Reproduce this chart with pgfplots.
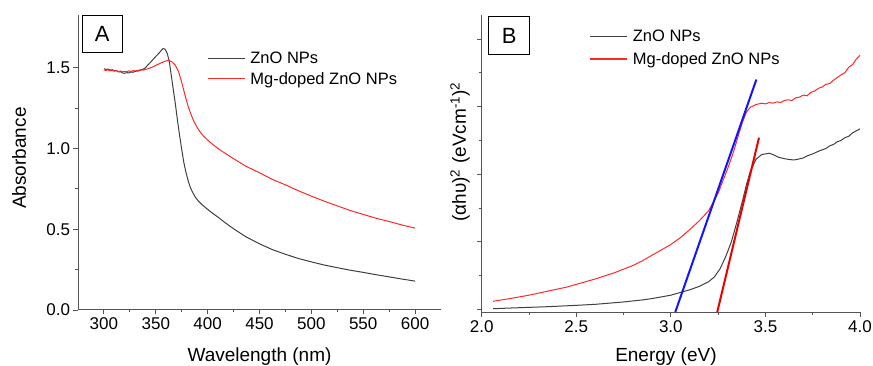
\documentclass[border=0pt]{standalone}
\usepackage{fontspec}
\setmainfont{Liberation Sans}
\usepackage{pgfplots}
\pgfplotsset{compat=1.18}
\definecolor{zno}{RGB}{64,64,64}
\definecolor{mg}{RGB}{255,40,40}
\definecolor{axisgray}{RGB}{85,85,85}
\definecolor{fitblue}{RGB}{20,20,255}
\definecolor{fitred}{RGB}{235,0,0}
\pgfplotsset{
  common/.style={
    scale only axis,
    axis x line*=bottom, axis y line*=left,
    axis line style={axisgray, line width=1pt},
    tick align=outside,
    major tick length=4.5pt, minor tick length=2.5pt,
    every tick/.style={axisgray, line width=0.9pt},
    tick label style={font=\fontsize{17}{17}\selectfont},
    /pgf/number format/assume math mode=true,
    label style={font=\fontsize{19}{19}\selectfont},
    legend cell align=left,
    legend style={draw=none, fill=none, font=\fontsize{16.5}{16.5}\selectfont,
      inner sep=0pt, nodes={inner sep=1pt}},
    legend image code/.code={\draw[##1] (0pt,0pt) -- (37pt,0pt); \path (41pt,0pt);},
    clip mode=individual,
  }
}
\begin{document}
\begin{tikzpicture}
\useasboundingbox (0pt,0pt) rectangle (873pt,366pt);
% ---------------- Panel A ----------------
\begin{axis}[common,
  at={(78pt,56pt)}, anchor=south west,
  width=363pt, height=295pt,
  xmin=275, xmax=625, ymin=0, ymax=1.827,
  xtick={300,350,...,600}, ytick={0,0.5,1,1.5},
  minor x tick num=1, minor y tick num=1,
  yticklabel style={/pgf/number format/.cd, fixed, fixed zerofill, precision=1},
  xlabel={Wavelength (nm)}, ylabel={Absorbance},
  xlabel style={at={(axis description cs:0.5,-0.175)}, anchor=base},
  ylabel style={at={(axis description cs:-0.1625,0.515)}, anchor=center},
  legend style={at={(rel axis cs:0.355,0.88)}, anchor=north west, row sep=5.5pt},
]
\addlegendimage{zno, line width=1pt}
\addlegendentry{ZnO NPs}
\addlegendimage{draw=mg, line width=1.3pt}
\addlegendentry{Mg-doped ZnO NPs}
\addplot[zno, line width=1pt, forget plot] coordinates {
(300,1.494)(302,1.490)(304,1.492)(306,1.486)(308,1.488)(310,1.481)(312,1.483)(314,1.474)(316,1.476)(318,1.468)(320,1.466)(322,1.470)(324,1.468)(326,1.474)(328,1.472)(330,1.478)(333,1.480)(336,1.487)(338,1.492)(340,1.50)(342,1.515)(345,1.535)(348,1.556)(350,1.57)(353,1.59)(355,1.605)(357,1.62)(359,1.615)(361,1.59)(363,1.54)(365,1.45)(367,1.36)(369,1.27)(371,1.17)(373,1.08)(375,0.995)(377,0.915)(379,0.855)(381,0.805)(383,0.765)(385,0.735)(388,0.70)(391,0.675)(395,0.65)(400,0.623)(405,0.598)(410,0.575)(417,0.54)(425,0.503)(437,0.453)(450,0.41)(462,0.375)(475,0.345)(487,0.32)(500,0.298)(512,0.279)(525,0.262)(537,0.247)(550,0.233)(562,0.219)(575,0.205)(587,0.192)(600,0.179)
};
\addplot[mg, line width=1pt, forget plot] coordinates {
(300,1.486)(302,1.484)(304,1.487)(306,1.481)(308,1.484)(310,1.479)(312,1.482)(314,1.476)(316,1.480)(318,1.475)(320,1.478)(322,1.476)(324,1.481)(326,1.477)(328,1.482)(330,1.481)(333,1.484)(335,1.487)(338,1.486)(340,1.49)(343,1.495)(345,1.50)(348,1.508)(350,1.515)(353,1.524)(355,1.53)(358,1.538)(360,1.543)(363,1.545)(366,1.535)(369,1.515)(372,1.475)(375,1.41)(378,1.335)(381,1.265)(384,1.21)(387,1.165)(390,1.13)(393,1.10)(396,1.077)(400,1.052)(405,1.025)(410,1.0)(417,0.97)(425,0.937)(437,0.89)(450,0.85)(462,0.81)(475,0.775)(487,0.74)(500,0.705)(512,0.675)(525,0.645)(537,0.617)(550,0.592)(562,0.569)(575,0.548)(587,0.527)(600,0.507)
};
\node[draw=black, line width=1.1pt, anchor=north west, minimum width=40pt, minimum height=37pt,
  inner sep=0pt, font=\fontsize{22}{22}\selectfont] at (rel axis cs:0.0102,1) {A};
\end{axis}
% ---------------- Panel B ----------------
\begin{axis}[common,
  at={(481.7pt,53.7pt)}, anchor=south west,
  width=378.3pt, height=297.3pt,
  xmin=2, xmax=4, ymin=-0.043, ymax=4.355,
  xtick={2,2.5,...,4}, ytick={0,1,2,3,4},
  minor x tick num=1, minor y tick num=1,
  yticklabels={},
  xticklabel style={/pgf/number format/.cd, fixed, fixed zerofill, precision=1},
  xlabel={Energy (eV)},
  ylabel={(αhυ)\textsuperscript{2} (eVcm\textsuperscript{-1})\textsuperscript{2}},
  xlabel style={at={(axis description cs:0.487,-0.167)}, anchor=base},
  ylabel style={at={(axis description cs:-0.0574,0.539)}, anchor=center},
  legend style={at={(rel axis cs:0.284,0.952)}, anchor=north west, row sep=7pt},
]
\addlegendimage{zno, line width=1pt}
\addlegendentry{ZnO NPs}
\addlegendimage{draw=mg, line width=1.5pt}
\addlegendentry{Mg-doped ZnO NPs}
\addplot[zno, line width=1pt, forget plot] coordinates {
(2.06,0.01)(2.15,0.02)(2.25,0.03)(2.35,0.04)(2.5,0.06)(2.6,0.075)(2.75,0.11)(2.85,0.14)(2.9,0.16)(2.95,0.185)(3.0,0.21)(3.05,0.25)(3.1,0.29)(3.15,0.34)(3.2,0.41)(3.23,0.48)(3.26,0.60)(3.29,0.78)(3.32,1.00)(3.35,1.30)(3.38,1.62)(3.40,1.85)(3.42,2.04)(3.45,2.22)(3.48,2.29)(3.50,2.30)(3.52,2.31)(3.54,2.29)(3.57,2.25)(3.60,2.23)(3.62,2.22)(3.65,2.21)(3.67,2.22)(3.70,2.24)(3.72,2.27)(3.75,2.30)(3.78,2.34)(3.80,2.36)(3.82,2.38)(3.84,2.42)(3.86,2.44)(3.88,2.48)(3.90,2.50)(3.92,2.54)(3.94,2.56)(3.96,2.61)(3.98,2.64)(4.0,2.67)
};
\addplot[mg, line width=1pt, forget plot] coordinates {
(2.06,0.12)(2.15,0.16)(2.25,0.21)(2.35,0.27)(2.45,0.33)(2.5,0.37)(2.55,0.41)(2.6,0.45)(2.65,0.495)(2.7,0.54)(2.75,0.595)(2.8,0.65)(2.85,0.72)(2.9,0.80)(2.95,0.88)(3.0,0.96)(3.05,1.06)(3.1,1.18)(3.15,1.31)(3.2,1.46)(3.25,1.72)(3.3,2.08)(3.33,2.32)(3.36,2.60)(3.38,2.78)(3.40,2.92)(3.42,2.99)(3.45,3.03)(3.48,3.05)(3.50,3.04)(3.52,3.06)(3.54,3.05)(3.56,3.07)(3.58,3.06)(3.60,3.09)(3.62,3.10)(3.64,3.09)(3.66,3.13)(3.68,3.14)(3.70,3.17)(3.72,3.16)(3.74,3.21)(3.76,3.23)(3.78,3.27)(3.80,3.29)(3.82,3.33)(3.84,3.34)(3.86,3.39)(3.88,3.43)(3.90,3.47)(3.92,3.50)(3.94,3.58)(3.96,3.62)(3.98,3.70)(4.0,3.76)
};
\addplot[fitblue, line width=2pt, forget plot] coordinates {(3.023,-0.043)(3.452,3.40)};
\addplot[fitred, line width=2pt, forget plot] coordinates {(3.245,-0.043)(3.466,2.54)};
\node[draw=black, line width=1.1pt, anchor=north west, minimum width=40.7pt, minimum height=38pt,
  inner sep=0pt, font=\fontsize{22}{22}\selectfont] at (rel axis cs:0.0174,0.9966) {B};
\end{axis}
\end{tikzpicture}
\end{document}
